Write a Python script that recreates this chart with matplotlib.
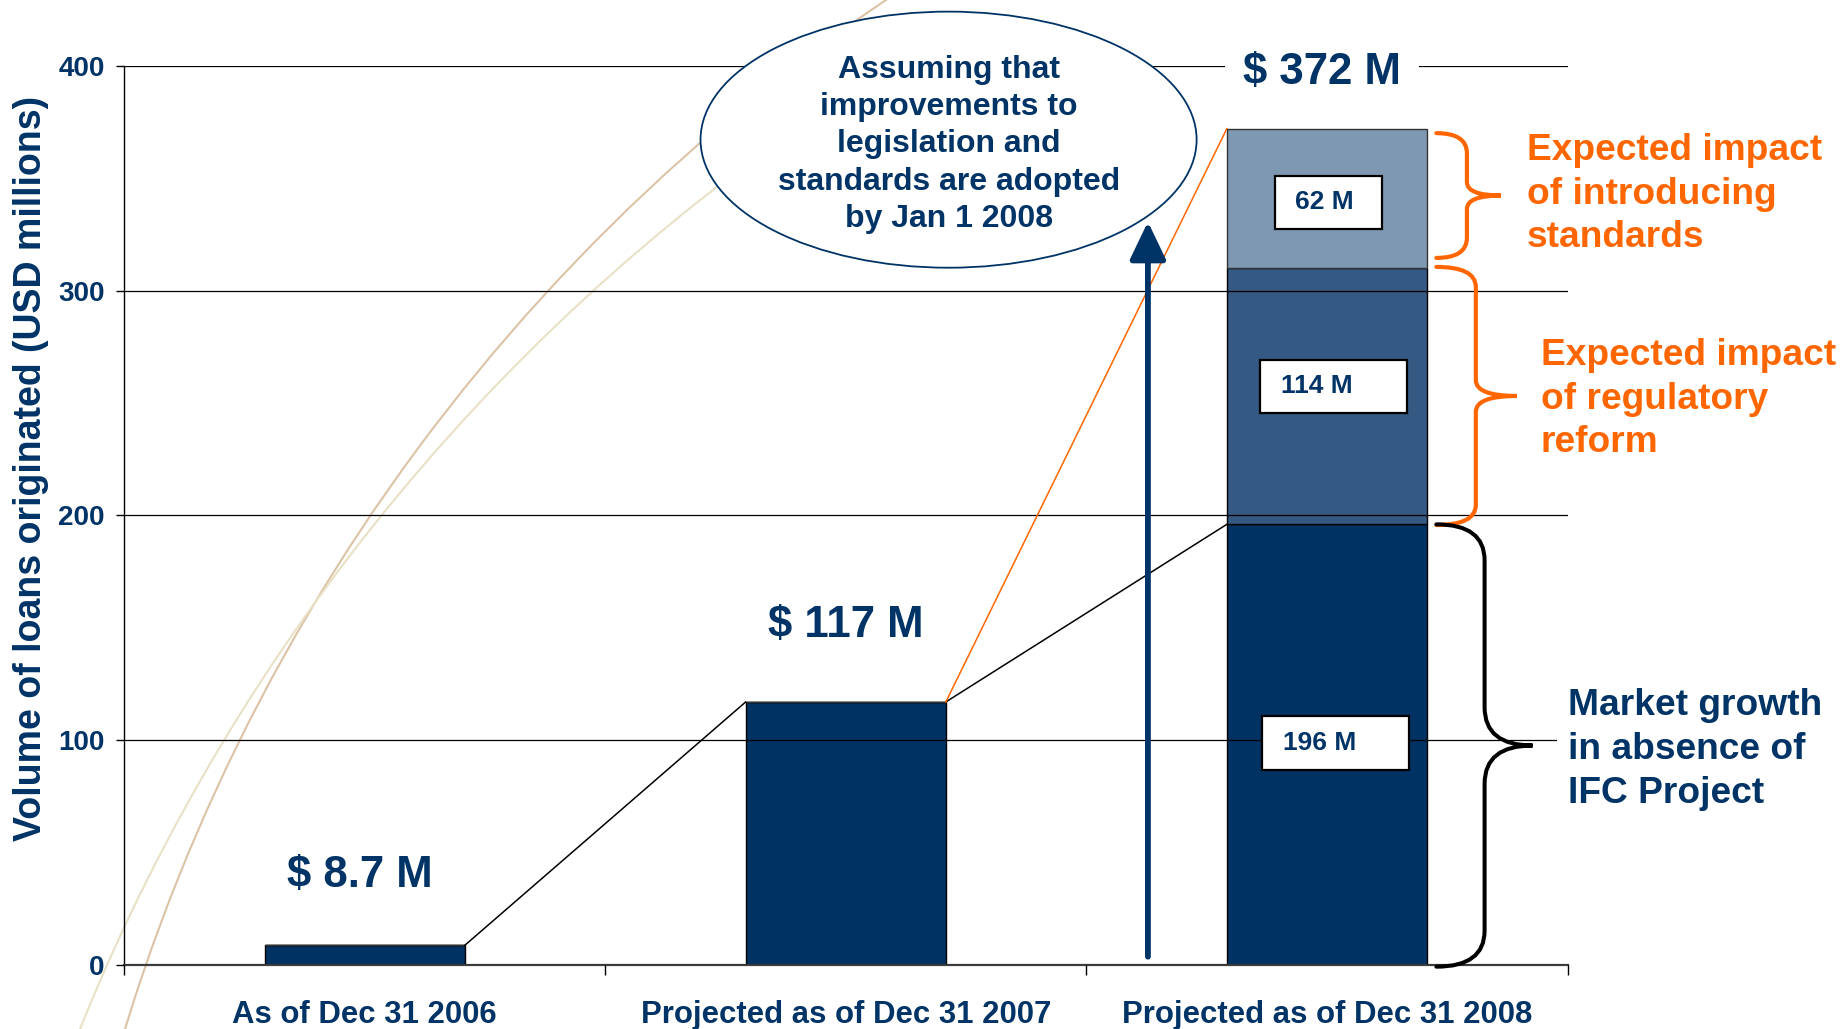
import matplotlib
matplotlib.use("Agg")
import matplotlib.pyplot as plt
import matplotlib.transforms as mtransforms
from matplotlib.patches import Ellipse, Rectangle, PathPatch, Arc
from matplotlib.path import Path

plt.rcParams['font.family'] = ['Liberation Sans', 'DejaVu Sans']

categories = ["As of Dec 31 2006", "Projected as of Dec 31 2007", "Projected as of Dec 31 2008"]
base_growth = [8.7, 117, 196]       # market growth without project
regulatory_reform = [0, 0, 114]
standards_impact = [0, 0, 62]
total_labels = ["$ 8.7 M", "$ 117 M", "$ 372 M"]
segment_labels = ["196 M", "114 M", "62 M"]
y_ticks = [0, 100, 200, 300, 400]

navy = '#003366'
bar_navy = '#003263'
mid_blue = '#345982'
light_blue = '#7f98b2'
orange = '#ff6600'

W, H = 1841, 1029
fig = plt.figure(figsize=(W / 100, H / 100), dpi=100)
ax = fig.add_axes([124 / W, 1 - 965 / H, (1567.5 - 124) / W, (965 - 65.7) / H])
ax.patch.set_visible(False)

# faint decorative arcs of the slide background (pixel coords, y up)
px = mtransforms.Affine2D().scale(1 / W, 1 / H) + fig.transFigure
for (cx, cy, r, t1, t2, col) in [(1963.1, -563.3, 1922.5, 120, 167, '#dcc3a6'),
                                 (1950.2, -752.7, 2016.0, 125, 160, '#e8e1c6')]:
    arc = Arc((cx, cy), 2 * r, 2 * r, theta1=t1, theta2=t2, color=col, lw=1.5, transform=px)
    arc.set_zorder(-1)
    fig.add_artist(arc)

x = [0, 1, 2]
bw = 0.416
ax.bar(x, base_growth, width=bw, color=bar_navy, edgecolor='black', lw=1, zorder=1)
ax.bar(x, regulatory_reform, width=bw, bottom=base_growth, color=mid_blue,
       edgecolor='black', lw=1, zorder=1)
mid_top = [b + r for b, r in zip(base_growth, regulatory_reform)]
ax.bar(x, standards_impact, width=bw, bottom=mid_top, color=light_blue,
       edgecolor='#333333', lw=1, zorder=1)
totals = [m + s for m, s in zip(mid_top, standards_impact)]

ax.set_xlim(-0.5, 2.5)
ax.set_ylim(0, 400)
ax.set_yticks(y_ticks)
ax.set_yticklabels([str(t) for t in y_ticks], fontsize=20, fontweight='bold', color=navy)
ax.tick_params(axis='y', length=6, width=1, pad=8, color='black')
ax.set_xticks(x)
ax.set_xticklabels(categories, fontsize=22.4, fontweight='bold', color=navy)
ax.tick_params(axis='x', which='major', length=0, pad=25.5)
ax.set_xticks([-0.5, 0.5, 1.5, 2.5], minor=True)
ax.tick_params(axis='x', which='minor', length=7, width=1, color='black')
ax.yaxis.grid(True, color='black', lw=0.9)
ax.set_axisbelow(False)
for s in ['top', 'right']:
    ax.spines[s].set_visible(False)
ax.spines['left'].set_linewidth(1)
ax.spines['bottom'].set_color('#404040')
ax.spines['bottom'].set_linewidth(1.6)

fig.text(31 / W, 1 - 468 / H, "Volume of loans originated (USD millions)", rotation=90,
         ha='center', va='center', fontsize=27, fontweight='bold', color=navy)

# connector lines between bars
h = bw / 2
ax.plot([x[0] + h, x[1] - h], [base_growth[0], base_growth[1]], color='black', lw=1.1, zorder=3)
ax.plot([x[1] + h, x[2] - h], [base_growth[1], base_growth[2]], color='black', lw=1.1, zorder=3)
ax.plot([x[1] + h, x[2] - h], [base_growth[1], totals[2]], color=orange, lw=1.1, zorder=3)

# total labels above bars
label_off = [31, 34]
label_dx = [-0.01, 0.0]
for i in range(2):
    ax.text(x[i] + label_dx[i], totals[i] + label_off[i], total_labels[i], ha='center',
            va='center', fontsize=31.5, fontweight='bold', color=navy, zorder=6)
ax.text(x[2] - 0.01, 396.8, total_labels[2], ha='center', va='center', fontsize=31.5,
        fontweight='bold', color=navy, zorder=6,
        bbox=dict(boxstyle='square,pad=0.42', fc='white', ec='none'))

# value boxes inside the stacked bar
seg_mid = [base_growth[2] / 2, base_growth[2] + regulatory_reform[2] / 2,
           mid_top[2] + standards_impact[2] / 2]
box_w = [0.305, 0.305, 0.222]
box_dx = [0.018, 0.013, 0.003]
box_dy = [0.75, 4.4, -1.7]
txt_dx = [-0.016, -0.02, -0.005]
for i in range(3):
    cy = seg_mid[i] + box_dy[i]
    ax.add_patch(Rectangle((x[2] + box_dx[i] - box_w[i] / 2, cy - 11.8), box_w[i], 23.6,
                           fc='white', ec='black', lw=1.6, zorder=5))
    ax.text(x[2] + txt_dx[i], cy, segment_labels[i], ha='center', va='center',
            fontsize=19, fontweight='bold', color=navy, zorder=6)

# assumption bubble
ax.add_patch(Ellipse((1.2137, 367.1), 1.031, 113.9, fc='white', ec=navy, lw=1.3,
                     zorder=4, clip_on=False))
ax.text(1.2137, 365.0, "Assuming that\nimprovements to\nlegislation and\nstandards are adopted\nby Jan 1 2008",
        ha='center', va='center', fontsize=23, fontweight='bold', color=navy,
        linespacing=1.32, zorder=6)

# upward arrow
ax.annotate('', xy=(1.628, 330.6), xytext=(1.628, 3.7),
            arrowprops=dict(arrowstyle='-|>,head_length=1.15,head_width=0.55', color=navy,
                            lw=4.2, mutation_scale=20, shrinkA=0, shrinkB=0), zorder=5)


def brace(x0, xm, xt, top, bot, r_end, r_mid, color, lw):
    mid = (top + bot) / 2
    verts = [(x0, top), (xm, top), (xm, top - r_end), (xm, mid + r_mid), (xm, mid), (xt, mid),
             (xm, mid), (xm, mid - r_mid), (xm, bot + r_end), (xm, bot), (x0, bot)]
    codes = [Path.MOVETO, Path.CURVE3, Path.CURVE3, Path.LINETO, Path.CURVE3, Path.CURVE3,
             Path.CURVE3, Path.CURVE3, Path.LINETO, Path.CURVE3, Path.CURVE3]
    ax.add_patch(PathPatch(Path(verts, codes), fc='none', ec=color, lw=lw,
                           zorder=5, clip_on=False, capstyle='round'))


brace(2.2275, 2.291, 2.3616, 370, 314.5, 9, 6, orange, 3)
brace(2.2275, 2.3095, 2.395, 310.5, 195.7, 9, 7, orange, 3)
brace(2.2275, 2.3277, 2.4274, 196, -0.75, 16, 17, 'black', 2.9)

ax.text(2.4156, 342.8, "Expected impact\nof introducing\nstandards", ha='left', va='center',
        fontsize=26.7, fontweight='bold', color=orange, linespacing=1.32, zorder=6, clip_on=False)
ax.text(2.4447, 251.7, "Expected impact\nof regulatory\nreform", ha='left', va='center',
        fontsize=26.7, fontweight='bold', color=orange, linespacing=1.32, zorder=6, clip_on=False)
ax.text(2.502, 95.9, "Market growth\nin absence of\nIFC Project", ha='left', va='center',
        fontsize=26.7, fontweight='bold', color=navy, linespacing=1.32, zorder=6, clip_on=False,
        bbox=dict(boxstyle='square,pad=0.3', fc='white', ec='none'))

fig.savefig("out.png", dpi=100)
